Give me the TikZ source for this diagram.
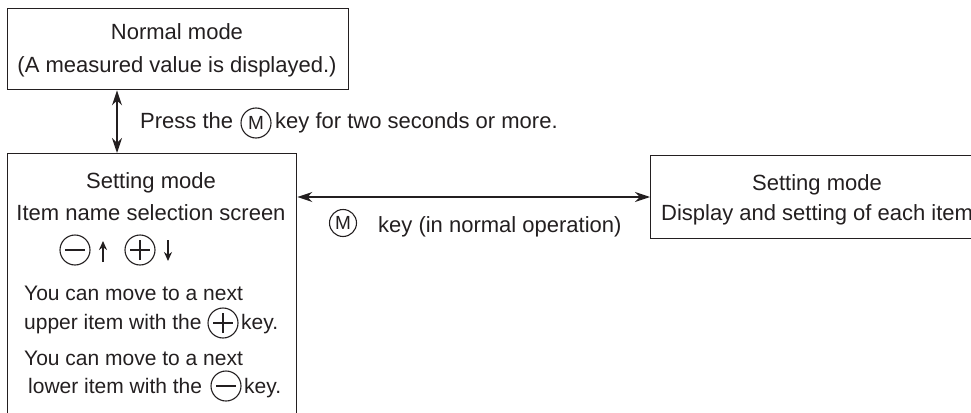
\documentclass[tikz,border=0pt]{standalone}
\usepackage{fontspec}
\setmainfont{Liberation Sans}
\usetikzlibrary{arrows.meta}
\definecolor{ink}{HTML}{231F20}
\begin{document}
\begin{tikzpicture}[x=1pt,y=-1pt,
  every node/.style={text=ink},
  box/.style={draw=ink, line width=1.4pt, anchor=north west, inner sep=0pt},
  txt/.style={font=\fontsize{22}{26}\selectfont, inner sep=0pt},
  stxt/.style={font=\fontsize{21}{25}\selectfont, inner sep=0pt},
  keyc/.style={draw=ink, circle, line width=1.1pt, minimum size=#1, inner sep=0pt},
  keym/.style={keyc=#1, font=\fontsize{19}{19}\selectfont},
  conn/.style={draw=ink, line width=1.4pt, {Stealth[length=15pt,width=10pt]}-{Stealth[length=15pt,width=10pt]}},
  sarrow/.style={draw=ink, line width=1.8pt, -{Stealth[length=9pt,width=8pt]}}]
\useasboundingbox (0,0) rectangle (971,412);
\clip (0,0) rectangle (971,412);
% boxes
\node[box, minimum width=341pt, minimum height=81pt] (top) at (7,8) {};
\node[box, minimum width=289pt, minimum height=290pt] (left) at (7,153) {};
\node[box, minimum width=360pt, minimum height=83pt] (right) at (650,155) {};
% top box text
\node[txt, anchor=base] (t1) at (177,40) {Normal mode};
\node[txt, anchor=base] (t2) at (177,73) {(A measured value is displayed.)};
% press label
\node[txt, anchor=base west] (p1) at (140,128) {Press the};
\node[keym=30pt] (pm) at (256,123) {M};
\node[txt, anchor=base west] (p2) at (275,128) {key for two seconds or more.};
% left box text
\node[txt, anchor=base] (l1) at (151,188) {Setting mode};
\node[txt, anchor=base] (l2) at (151,220) {Item name selection screen};
\node[keyc=30pt] (cm) at (75,250) {};
\draw[ink, line width=1.1pt] ([xshift=-10pt]cm.center) -- ([xshift=10pt]cm.center);
\coordinate (ua1) at (103,262); \coordinate (ua2) at (103,241);
\draw[sarrow] (ua1) -- (ua2);
\node[keyc=30pt] (cp) at (140,250) {};
\draw[ink, line width=1.1pt] ([xshift=-10pt]cp.center) -- ([xshift=10pt]cp.center)
  ([yshift=-10pt]cp.center) -- ([yshift=10pt]cp.center);
\coordinate (da1) at (168,240); \coordinate (da2) at (168,261);
\draw[sarrow] (da1) -- (da2);
\node[stxt, anchor=base west] (l3) at (24,300) {You can move to a next};
\node[stxt, anchor=base west] (l4) at (24,329) {upper item with the};
\node[keyc=30pt] (cp2) at (223,323) {};
\draw[ink, line width=1.1pt] ([xshift=-10pt]cp2.center) -- ([xshift=10pt]cp2.center)
  ([yshift=-10pt]cp2.center) -- ([yshift=10pt]cp2.center);
\node[stxt, anchor=base west] (l5) at (241,329) {key.};
\node[stxt, anchor=base west] (l6) at (24,365) {You can move to a next};
\node[stxt, anchor=base west] (l7) at (28,393) {lower item with the};
\node[keyc=30pt] (cm2) at (226,386) {};
\draw[ink, line width=1.1pt] ([xshift=-10pt]cm2.center) -- ([xshift=10pt]cm2.center);
\node[stxt, anchor=base west] (l8) at (244,393) {key.};
% right box text
\node[txt, anchor=base] (r1) at (817,190) {Setting mode};
\node[txt, anchor=base west] (r2) at (661,220) {Display and setting of each item};
% lower label
\node[keym=27pt] (lm) at (343,223) {M};
\node[txt, anchor=base west] (k1) at (378,232) {key (in normal operation)};
% connectors
\coordinate (va) at (117,0);
\coordinate (ha) at (0,197);
\draw[conn] (top.south -| va) -- (left.north -| va);
\draw[conn] (left.east |- ha) -- (right.west |- ha);
\end{tikzpicture}
\end{document}
